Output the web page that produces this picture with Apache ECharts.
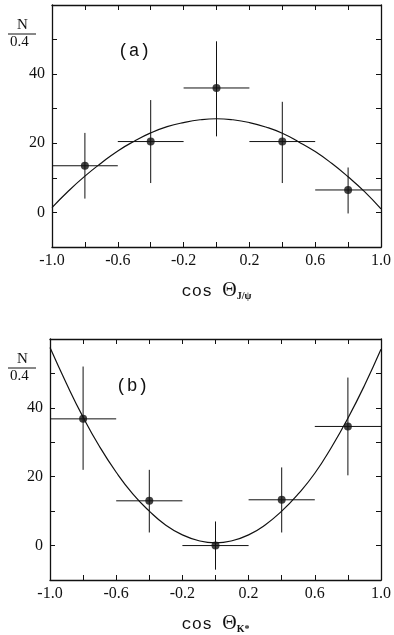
<!DOCTYPE html>
<html>
<head>
<meta charset="utf-8">
<script src="https://cdn.jsdelivr.net/npm/echarts@6/dist/echarts.min.js"></script>
<style>
  html, body { margin: 0; padding: 0; background: #fff; }
  #chart { width: 394px; height: 635px; }
</style>
</head>
<body>
<div id="chart"></div>
<script>
// bin centres and half width of each cos bin
const cosBins = [-0.8, -0.4, 0, 0.4, 0.8];
const binHalfWidth = 0.2;

// panel (a): cos theta J/psi
const aCounts = [13.5, 20.5, 36, 20.5, 6.5];
const aLow = [4, 8.5, 22, 8.5, -0.3];
const aHigh = [23, 32.5, 49.5, 32, 13];

// panel (b): cos theta K*
const bCounts = [36.8, 13, 0, 13.3, 34.6];
const bLow = [22, 3.8, -7, 3.8, 20.4];
const bHigh = [52, 22, 7, 22.7, 48.8];

// fitted curves
const fitX = [-1, -0.9, -0.8, -0.7, -0.6, -0.5, -0.4, -0.3, -0.2, -0.1, 0, 0.1, 0.2, 0.3, 0.4, 0.5, 0.6, 0.7, 0.8, 0.9, 1];
const aFit = [1.4, 6.2, 10.5, 14.3, 17.8, 20.6, 23, 24.8, 26, 26.8, 27.1, 26.8, 26, 24.7, 22.9, 20.4, 17.6, 14.2, 10.3, 6, 1];
const bFit = [57.5, 47, 37.3, 28.7, 21.3, 15, 10, 5.9, 3.1, 1.4, 0.8, 1.4, 3.1, 6, 10, 15, 21, 28.5, 37, 46.5, 57];

const xTickLabels = ['-1.0', '-0.6', '-0.2', '0.2', '0.6', '1.0'];
const yTickLabels = ['0', '20', '40'];

const serif = '"Liberation Serif", "DejaVu Serif", serif';
const mono = '"Liberation Mono", "DejaVu Sans Mono", monospace';
const black = '#111';

const chart = echarts.init(document.getElementById('chart'), null, { renderer: 'canvas' });

const tick = { show: true, inside: true, length: 5, lineStyle: { color: black, width: 1 } };
const line = { show: true, onZero: false, lineStyle: { color: black, width: 1.3 } };

function xAxes(gridIndex, sub) {
	const base = { type: 'value', gridIndex, min: -1, max: 1, interval: 0.2, splitLine: { show: false }, axisLine: line, axisTick: tick };
	return [
		{
			...base,
			position: 'bottom',
			axisLabel: {
				color: black, fontFamily: serif, fontSize: 16, margin: 6,
				formatter: v => {
					const s = v.toFixed(1);
					return xTickLabels.includes(s) ? s : '';
				},
			},
			name: '{c|cos }{t|Θ}{s|' + sub + '}',
			nameLocation: 'middle',
			nameGap: 34,
			nameTextStyle: {
				rich: {
					c: { fontFamily: mono, fontSize: 17, color: black, lineHeight: 20 },
					t: { fontFamily: serif, fontSize: 20, color: black, lineHeight: 20 },
					s: { fontFamily: serif, fontSize: 10, fontWeight: 'bold', color: black, lineHeight: 8, verticalAlign: 'bottom' },
				},
			},
		},
		{ ...base, position: 'top', axisLabel: { show: false } },
	];
}

function yAxes(gridIndex) {
	const base = { type: 'value', gridIndex, min: -10, max: 60, interval: 10, splitLine: { show: false }, axisLine: line, axisTick: tick };
	return [
		{
			...base,
			position: 'left',
			axisLabel: {
				color: black, fontFamily: serif, fontSize: 16, margin: 7,
				formatter: v => (yTickLabels.includes(String(v)) ? String(v) : ''),
			},
		},
		{ ...base, position: 'right', axisLabel: { show: false } },
	];
}

function errorBars(counts, low, high) {
	return cosBins.map((x, i) => [x, counts[i], low[i], high[i]]);
}

function renderBar(params, api) {
	const x = api.value(0), y = api.value(1);
	const l = api.coord([x - binHalfWidth, y]);
	const r = api.coord([x + binHalfWidth, y]);
	const t = api.coord([x, api.value(3)]);
	const b = api.coord([x, api.value(2)]);
	const style = { stroke: black, lineWidth: 1 };
	return {
		type: 'group',
		children: [
			{ type: 'line', shape: { x1: l[0], y1: l[1], x2: r[0], y2: r[1] }, style },
			{ type: 'line', shape: { x1: t[0], y1: t[1], x2: b[0], y2: b[1] }, style },
		],
	};
}

function panelSeries(axisOffset, counts, low, high, fit) {
	const xi = axisOffset * 2, yi = axisOffset * 2;
	return [
		{
			type: 'line', xAxisIndex: xi, yAxisIndex: yi, smooth: true, showSymbol: false, silent: true,
			data: fitX.map((x, i) => [x, fit[i]]),
			lineStyle: { color: black, width: 1.2 },
		},
		{
			type: 'custom', xAxisIndex: xi, yAxisIndex: yi, renderItem: renderBar,
			data: errorBars(counts, low, high),
		},
		{
			type: 'scatter', xAxisIndex: xi, yAxisIndex: yi, symbolSize: 8, z: 5,
			itemStyle: { color: black },
			data: cosBins.map((x, i) => [x, counts[i]]),
		},
	];
}

function fraction(top) {
	return [
		{ type: 'text', left: 17, top: top, style: { text: 'N', font: '15px ' + serif, fill: black } },
		{ type: 'line', shape: { x1: 8, y1: top + 16, x2: 36, y2: top + 16 }, style: { stroke: black, lineWidth: 1 } },
		{ type: 'text', left: 10, top: top + 17, style: { text: '0.4', font: '15px ' + serif, fill: black } },
	];
}

chart.setOption({
	backgroundColor: '#fff',
	animation: false,
	grid: [
		{ left: 52, right: 10, top: 5, height: 242 },
		{ left: 50, right: 11, top: 339, height: 242 },
	],
	xAxis: [...xAxes(0, 'J/ψ'), ...xAxes(1, 'K*')],
	yAxis: [...yAxes(0), ...yAxes(1)],
	series: [
		...panelSeries(0, aCounts, aLow, aHigh, aFit),
		...panelSeries(1, bCounts, bLow, bHigh, bFit),
	],
	graphic: [
		...fraction(18),
		...fraction(352),
		{ type: 'text', left: 118, top: 42, style: { text: '(a)', font: '18px ' + mono, fill: black } },
		{ type: 'text', left: 116, top: 377, style: { text: '(b)', font: '18px ' + mono, fill: black } },
	],
});
</script>
</body>
</html>
